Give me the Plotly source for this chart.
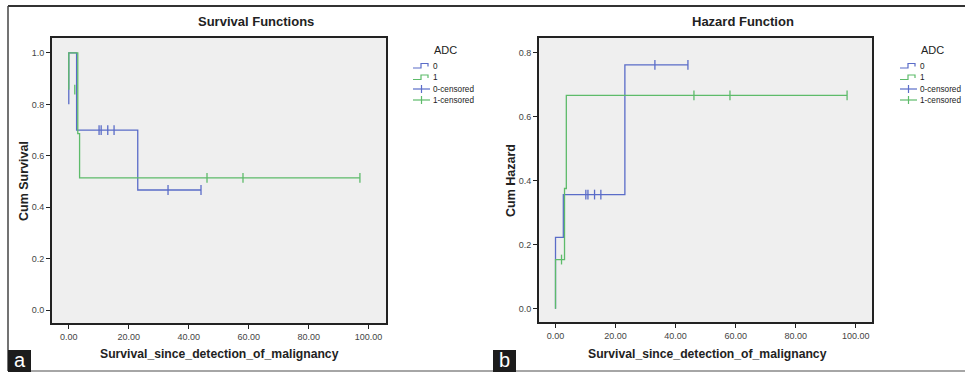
import plotly.graph_objects as go

# ---------------- data ----------------
# Survival (panel a)
surv0_t = [0, 0, 2.6, 23.0, 44.1]
surv0_s = [0.8, 1.0, 0.7, 0.467, 0.467]
surv1_t = [0, 0, 3.0, 3.6, 97.1]
surv1_s = [0.857, 1.0, 0.686, 0.514, 0.514]
cens0_t = [10.1, 10.8, 13.0, 15.1, 33.1, 44.1]
cens0_s = [0.7, 0.7, 0.7, 0.7, 0.467, 0.467]
cens1_t = [2.0, 46.1, 58.1, 97.1]
cens1_s = [0.857, 0.514, 0.514, 0.514]
# Cumulative hazard (panel b)
haz0_t = [0, 0, 2.6, 23.1, 44.1]
haz0_h = [0.0, 0.223, 0.357, 0.762, 0.762]
haz1_t = [0, 0, 3.0, 3.6, 97.1]
haz1_h = [0.0, 0.154, 0.376, 0.667, 0.667]
cens0_h = [0.357, 0.357, 0.357, 0.357, 0.762, 0.762]
cens1_h = [0.154, 0.667, 0.667, 0.667]

x_ticks = [0, 20, 40, 60, 80, 100]
surv_ticks = [0.0, 0.2, 0.4, 0.6, 0.8, 1.0]
haz_ticks = [0.0, 0.2, 0.4, 0.6, 0.8]
legend_labels = ["0", "1", "0-censored", "1-censored"]

W, H = 965, 372
BLUE = "#5a6cc8"
GREEN = "#5dbb6a"
FONT = "Liberation Sans, Arial, sans-serif"


def px(x):
    return x / W


def py(y):
    return 1 - y / H


fig = go.Figure()


def add_curve(t, v, color, xa, ya):
    fig.add_trace(go.Scatter(x=t, y=v, mode="lines", line=dict(color=color, width=1.3, shape="hv"),
                             xaxis=xa, yaxis=ya, showlegend=False, hoverinfo="skip"))


def add_cens(t, v, color, xa, ya):
    fig.add_trace(go.Scatter(x=t, y=v, mode="markers",
                             marker=dict(symbol="line-ns", size=7, line=dict(color=color, width=1.3)),
                             xaxis=xa, yaxis=ya, showlegend=False, hoverinfo="skip"))


add_curve(surv0_t, surv0_s, BLUE, "x", "y")
add_curve(surv1_t, surv1_s, GREEN, "x", "y")
add_cens(cens0_t, cens0_s, BLUE, "x", "y")
add_cens(cens1_t, cens1_s, GREEN, "x", "y")

add_curve(haz0_t, haz0_h, BLUE, "x2", "y2")
add_curve(haz1_t, haz1_h, GREEN, "x2", "y2")
add_cens(cens0_t, cens0_h, BLUE, "x2", "y2")
add_cens(cens1_t, cens1_h, GREEN, "x2", "y2")

axis_common = dict(showline=True, linecolor="#222222", linewidth=2, mirror=True,
                   ticks="outside", ticklen=4, tickcolor="#222222", tickwidth=1,
                   showgrid=False, zeroline=False,
                   tickfont=dict(family=FONT, size=9, color="#444444"))

fig.update_layout(
    width=W, height=H, margin=dict(l=0, r=0, t=0, b=0),
    paper_bgcolor="white", plot_bgcolor="#efefef",
    showlegend=False,
    xaxis=dict(domain=[px(52), px(386)], range=[-5.6, 105.8], tickvals=x_ticks,
               tickformat=".2f", anchor="y", **axis_common),
    yaxis=dict(domain=[py(323), py(38)], range=[-0.05, 1.058], tickvals=surv_ticks,
               tickformat=".1f", anchor="x", **axis_common),
    xaxis2=dict(domain=[px(539), px(872)], range=[-5.5, 105.4], tickvals=x_ticks,
                tickformat=".2f", anchor="y2", **axis_common),
    yaxis2=dict(domain=[py(322), py(38)], range=[-0.041, 0.846], tickvals=haz_ticks,
                tickformat=".1f", anchor="x2", **axis_common),
)

shapes = []
ann = []

# outer frame
shapes.append(dict(type="line", xref="paper", yref="paper", x0=px(8), x1=1.0, y0=py(6), y1=py(6),
                   line=dict(color="#333333", width=2)))
shapes.append(dict(type="line", xref="paper", yref="paper", x0=px(8), x1=px(8), y0=py(6), y1=py(371),
                   line=dict(color="#444444", width=1.5)))
shapes.append(dict(type="line", xref="paper", yref="paper", x0=px(8), x1=1.0, y0=py(371), y1=py(371),
                   line=dict(color="#888888", width=1.5)))


def text(x, y, s, size, bold=False, color="#222222", angle=0, xanchor="center"):
    ann.append(dict(xref="paper", yref="paper", x=px(x), y=py(y), text=("<b>%s</b>" % s) if bold else s,
                    showarrow=False, xanchor=xanchor, yanchor="middle", textangle=angle,
                    font=dict(family=FONT, size=size, color=color)))


panels = [
    dict(title="Survival Functions", tx=256, ytitle="Cum Survival", ytx=24, xtx=219,
         lx=413, adc=445, label="a", bx=8),
    dict(title="Hazard Function", tx=743, ytitle="Cum Hazard", ytx=511, xtx=707,
         lx=900, adc=932, label="b", bx=493),
]

for p in panels:
    text(p["tx"], 22, p["title"], 13, bold=True)
    text(p["ytx"], 181, p["ytitle"], 12.5, bold=True, angle=-90)
    text(p["xtx"], 354, "Survival_since_detection_of_malignancy", 12.2, bold=True)
    text(p["adc"], 50, "ADC", 11)
    # legend
    ys = [66, 77.5, 89, 100]
    cols = [BLUE, GREEN, BLUE, GREEN]
    x0 = p["lx"]
    for i, (lab, c, yy) in enumerate(zip(legend_labels, cols, ys)):
        if i < 2:
            path = "M %f %f L %f %f L %f %f L %f %f L %f %f" % (
                px(x0), py(yy + 2), px(x0 + 8), py(yy + 2), px(x0 + 8), py(yy - 2.5),
                px(x0 + 15), py(yy - 2.5), px(x0 + 15), py(yy + 0.5))
            shapes.append(dict(type="path", xref="paper", yref="paper", path=path,
                               line=dict(color=c, width=1.2)))
        else:
            shapes.append(dict(type="line", xref="paper", yref="paper", x0=px(x0), x1=px(x0 + 17),
                               y0=py(yy), y1=py(yy), line=dict(color=c, width=1.2)))
            shapes.append(dict(type="line", xref="paper", yref="paper", x0=px(x0 + 8.5), x1=px(x0 + 8.5),
                               y0=py(yy - 4), y1=py(yy + 4), line=dict(color=c, width=1.2)))
        text(x0 + 18, yy, lab, 8.2, xanchor="left")
    # panel label box
    shapes.append(dict(type="rect", xref="paper", yref="paper", x0=px(p["bx"]), x1=px(p["bx"] + 23),
                       y0=py(372), y1=py(350), fillcolor="#1c1c1c", line=dict(width=0)))
    text(p["bx"] + 11.5, 360, p["label"], 20, color="white")

fig.update_layout(shapes=shapes, annotations=ann)
fig.write_html("out.html", config={"displayModeBar": False, "staticPlot": True},
               post_script="document.body.style.margin='0';document.body.style.overflow='hidden';")
